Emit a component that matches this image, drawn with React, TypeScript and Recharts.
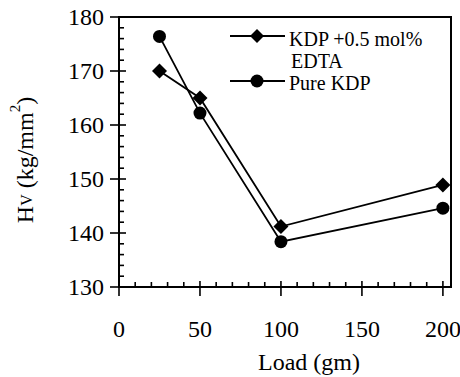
import { LineChart, Line, XAxis, YAxis, ReferenceArea, Legend } from 'recharts';

const loads = [25, 50, 100, 200];
const hvEdta = [170, 165, 141.2, 148.9];
const hvPure = [176.4, 162.2, 138.4, 144.6];

const xTicks = [0, 10, 20, 30, 40, 50, 60, 70, 80, 90, 100, 110, 120, 130, 140, 150, 160, 170, 180, 190, 200];
const yTicks = [130, 132, 134, 136, 138, 140, 142, 144, 146, 148, 150, 152, 154, 156, 158, 160, 162, 164, 166, 168, 170, 172, 174, 176, 178, 180];

const data = loads.map((load, i) => ({ load, edta: hvEdta[i], pure: hvPure[i] }));

const FONT = '"Liberation Serif", "Times New Roman", serif';

// major ticks cross the axis, minor ones point inward
function XTick(props: any) {
  const { x, y, payload } = props;
  const major = payload.value % 50 === 0;
  return (
    <g>
      <line x1={x} x2={x} y1={major ? y - 6 : y - 5} y2={major ? y + 9 : y} stroke="#000" strokeWidth={1.6} />
      {major && (
        <text x={x} y={y + 50} textAnchor="middle" fontSize={24} fontFamily={FONT} fill="#000">
          {payload.value}
        </text>
      )}
    </g>
  );
}

function YTick(props: any) {
  const { x, y, payload } = props;
  const major = (payload.value - 130) % 10 === 0;
  return (
    <g>
      <line x1={major ? x - 9 : x} x2={major ? x + 7 : x + 5} y1={y} y2={y} stroke="#000" strokeWidth={1.6} />
      {major && (
        <text x={x - 15} y={y + 8} textAnchor="end" fontSize={24} fontFamily={FONT} fill="#000">
          {payload.value}
        </text>
      )}
    </g>
  );
}

function Diamond(props: any) {
  const { cx, cy, s = 7.5 } = props;
  if (cx == null || cy == null) return null;
  return <path d={`M${cx},${cy - s}L${cx + s},${cy}L${cx},${cy + s}L${cx - s},${cy}Z`} fill="#000" />;
}

function YTitle(props: any) {
  const vb = props.viewBox || { x: 0, y: 17, width: 119, height: 270 };
  const cx = 25;
  const cy = vb.y + vb.height / 2 + 8;
  return (
    <text x={cx} y={cy} transform={`rotate(-90, ${cx}, ${cy})`} textAnchor="middle" dominantBaseline="central"
      fontSize={24} fontFamily={FONT} fill="#000">
      H<tspan fontSize={16} dy={1}>V</tspan>
      <tspan dy={-1}> (kg/mm</tspan>
      <tspan fontSize={15} dy={-10}>2</tspan>
      <tspan dy={10}>)</tspan>
    </text>
  );
}

function XTitle(props: any) {
  const vb = props.viewBox || { x: 119, y: 287, width: 332, height: 90 };
  return (
    <text x={vb.x + vb.width / 2 + 24} y={vb.y + 83} textAnchor="middle" fontSize={24} fontFamily={FONT} fill="#000">
      Load (gm)
    </text>
  );
}

function LegendBox() {
  return (
    <svg width={460} height={100} style={{ display: 'block' }}>
      <g fontFamily={FONT} fontSize={20} fill="#000">
        <line x1={230} x2={285} y1={36} y2={36} stroke="#000" strokeWidth={1.8} />
        <Diamond cx={257} cy={36} s={7} />
        <text x={289} y={46}>KDP  +0.5 mol%</text>
        <text x={291} y={68}>EDTA</text>
        <line x1={230} x2={285} y1={81} y2={81} stroke="#000" strokeWidth={1.8} />
        <circle cx={257} cy={81} r={6.5} fill="#000" />
        <text x={289} y={90}>Pure KDP</text>
      </g>
    </svg>
  );
}

export default function App() {
  return (
    <div style={{ position: 'absolute', left: 0, top: 0, width: 460, height: 377, background: '#fff' }}>
      <LineChart width={460} height={377} data={data} margin={{ top: 17, right: 9, bottom: 0, left: 0 }}>
        <XAxis
          dataKey="load"
          type="number"
          domain={[0, 205]}
          ticks={xTicks}
          interval={0}
          tickSize={0}
          tickMargin={0}
          tickLine={false}
          tick={(p: any) => <XTick {...p} />}
          axisLine={{ stroke: '#000', strokeWidth: 2 }}
          height={90}
          allowDataOverflow
          label={<XTitle />}
        />
        <YAxis
          type="number"
          domain={[130, 180]}
          ticks={yTicks}
          interval={0}
          tickSize={0}
          tickMargin={0}
          tickLine={false}
          tick={(p: any) => <YTick {...p} />}
          axisLine={{ stroke: '#000', strokeWidth: 2 }}
          width={119}
          allowDataOverflow
          label={<YTitle />}
        />
        <ReferenceArea x1={0} x2={205} y1={130} y2={180} fill="none" stroke="#000" strokeWidth={2} />
        <Legend
          layout="horizontal"
          verticalAlign="middle"
          content={() => <LegendBox />}
          wrapperStyle={{ position: 'absolute', left: 0, top: 0, width: 460, height: 100 }}
        />
        <Line
          dataKey="edta"
          name="KDP +0.5 mol% EDTA"
          stroke="#000"
          strokeWidth={1.8}
          dot={(p: any) => <Diamond key={`d${p.index}`} cx={p.cx} cy={p.cy} s={7.5} />}
          isAnimationActive={false}
        />
        <Line
          dataKey="pure"
          name="Pure KDP"
          stroke="#000"
          strokeWidth={1.8}
          dot={{ r: 6.5, fill: '#000', stroke: '#000', strokeWidth: 0 }}
          isAnimationActive={false}
        />
      </LineChart>
    </div>
  );
}
